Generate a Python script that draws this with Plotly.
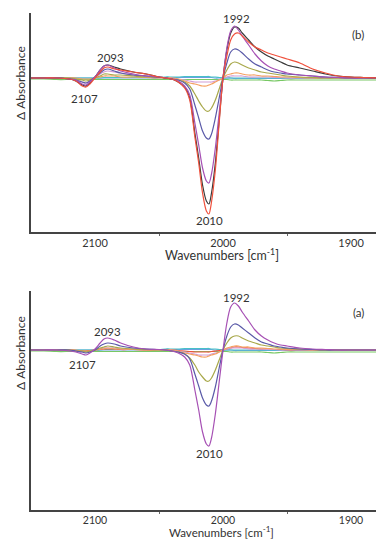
import plotly.graph_objects as go

# Wavenumber grid (cm^-1)
X = [2150, 2140, 2130, 2120, 2115, 2110, 2107, 2104, 2100, 2096, 2093, 2090, 2085, 2080,
     2070, 2060, 2050, 2045, 2040, 2035, 2030, 2026, 2022, 2019, 2016, 2013, 2011, 2009,
     2006, 2003, 2000, 1997, 1994, 1991, 1988, 1985, 1980, 1975, 1970, 1965, 1960, 1955,
     1950, 1940, 1930, 1920, 1910, 1900, 1890, 1880]

# ---- panel (b) spectra (delta absorbance, arbitrary units) ----
B_red = [0, 0, 0, -1, -3, -8, -9, -6, 0, 6, 10, 11, 9, 8, 6, 4, 1, 0,
         -1, -4, -10, -22, -59, -85, -115, -133, -136, -124, -92, -45, 0,
         22, 38, 44, 45, 42, 36, 31, 28, 25, 23, 21, 19, 15, 9, 5, 2, 1, 0.5, 0]
B_black = [0, 0, 0, -1, -3, -7, -8, -5, 1, 8, 12, 13, 11, 9, 6, 4, 1, 0,
           -1, -4, -9, -20, -55, -80, -107, -123, -126, -115, -85, -42, 0,
           28, 45, 51, 50, 45, 38, 31, 26, 22, 19, 16, 13, 10, 7, 4, 2, 1, 0.5, 0]
B_purple = [0, 0, 0, -1, -2, -6, -7, -4, 1, 8, 12, 13, 10, 7, 4, 2, 1, 0,
            -1, -3, -8, -17, -45, -67, -90, -103, -105, -96, -70, -35, 0,
            30, 47, 52, 48, 42, 33, 24, 17, 12, 9, 7, 5, 3, 2, 1, 0.5, 0, 0, 0]
B_blue = [0, 0, 0, -1, -2, -4, -5, -3, 1, 5, 8, 9, 7, 5, 3, 2, 1, 0,
          -1, -2, -5, -11, -27, -40, -53, -60, -61, -56, -40, -20, 0,
          15, 26, 29, 28, 25, 19, 14, 11, 8, 6, 5, 4, 3, 2, 1, 0.5, 0, 0, 0]
B_lilac = [0, 0, 0, -1, -2, -4, -5, -3, 0, 4, 6, 7, 6, 5, 3, 2, 1, 0,
           0, -1, -2, -3, -4, -4, -4, -4, -4, -4, -3, -2, 0,
           1, 2, 2, 2, 2, 1, 1, 1, 1, 0.5, 0.5, 0, 0, 0, 0, 0, 0, 0, 0]
B_olive = [0, 0, 0, 0, -1, -2, -3, -2, 0, 2, 4, 4, 3, 3, 2, 1, 0.5, 0,
           -1, -2, -4, -8, -16, -23, -29, -33, -33, -30, -22, -11, 0,
           8, 14, 16, 15, 13, 10, 8, 6, 5, 4, 3, 2, 1, 0.5, 0, 0, 0, 0, 0]
B_orange = [0, 0, 0, 0, 0, -1, -1, -1, 0, 1, 2, 2, 2, 1, 1, 0.5, 0, 0,
            0, -1, -3, -5, -6, -7, -8, -8, -7, -6, -4, -2, 0,
            3, 4, 5, 5, 4, 3, 3, 2, 2, 1.5, 1, 1, 0.5, 0, 0, 0, 0, 0, 0]
B_cyan = [0, 0.5, 0, 0, 0, 0, 0, 0, 0, 0, 0.5, 0.5, 0.5, 0.5, 0.5, 0.5, 0.5, 1,
          1, 1, 1.5, 1.5, 1.5, 1.5, 1.5, 1.5, 1.5, 1, 1, 0.5, 0,
          0, 0, 0, 0, 0, 0, 0, 0, 0, 0, 0, 0, 0, 0, 0, 0, 0, 0, 0]
B_lightblue = [0, 0, 0, 0, 0, 0, 0, 0, 0, 0, 0, 0, 0, 0, 0, 0, 0, 0.5,
               0.5, 0.5, 0.5, 0.5, 0.5, 0.5, 0.5, 0.5, 0.5, 0.5, 0, 0, 0,
               0, 0, -0.5, -0.5, -0.5, -0.5, -0.5, -0.5, -0.5, -0.5, -0.5, -0.5,
               -0.5, -0.5, -0.5, -0.5, -0.5, -0.5, -0.5]
B_green = [-1, -1, -1.5, -1.5, -1.5, -1.5, -1.5, -1.5, -1.5, -1.5, -1.5, -1.5, -1.5, -1.5,
           -1.5, -1.5, -1.5, -1.5, -1.5, -1.5, -1.5, -1.5, -1.5, -1.5, -1.5, -1.5, -1.5,
           -1.5, -1.5, -1.5, -1.5, -1.5, -2, -2, -2, -2, -2, -2, -2, -2.5, -3, -2.5,
           -2, -2, -2, -2, -2, -2, -2, -2]

# ---- panel (a) spectra ----
A_purple = [0, 0, 0, -1, -2, -4, -5, -3, 1, 7, 11, 12, 10, 7, 3, 1, 0.5, 0,
            -1, -3, -7, -15, -40, -60, -82, -94, -96, -88, -64, -32, 0,
            27, 43, 47, 44, 38, 29, 20, 14, 10, 7, 5, 4, 2, 1, 0.5, 0, 0, 0, 0]
A_blue = [0, 0, 0, 0, -1, -2, -3, -2, 0, 4, 6, 7, 6, 4, 2, 1, 0.5, 0,
          -1, -2, -4, -9, -24, -36, -48, -55, -56, -51, -37, -18, 0,
          14, 23, 26, 25, 22, 17, 12, 8, 6, 4, 3, 2, 1, 0.5, 0, 0, 0, 0, 0]
A_olive = [0, 0, 0, 0, -1, -1, -2, -1, 0, 2, 3, 4, 3, 2, 1, 0.5, 0, 0,
           -1, -2, -4, -8, -15, -22, -27, -31, -31, -28, -20, -10, 0,
           7, 12, 14, 14, 12, 9, 7, 5, 4, 3, 2, 1.5, 1, 0.5, 0, 0, 0, 0, 0]
A_orange = [0, 0, 0, 0, 0, -1, -1, -1, 0, 1, 1, 2, 1, 1, 0.5, 0, 0, 0,
            0, -1, -3, -4, -5, -6, -7, -7, -6, -5, -4, -2, 0,
            2, 3, 4, 4, 3, 3, 2, 2, 1.5, 1, 1, 0.5, 0.5, 0, 0, 0, 0, 0, 0]
A_lilac = [0, 0, 0, 0, -1, -2, -2, -1, 0, 1, 2, 2, 2, 1, 1, 0.5, 0, 0,
           0, -1, -2, -3, -4, -5, -5, -5, -5, -4, -3, -2, 0,
           1, 2, 2, 2, 2, 1, 1, 1, 0.5, 0.5, 0, 0, 0, 0, 0, 0, 0, 0, 0]
A_red = [0, 0, 0, 0, -0.5, -1, -1, -0.5, 0, 0.5, 1, 1, 1, 0.5, 0.5, 0, 0, 0,
         0, -0.5, -1, -1.5, -2, -2, -2, -2, -2, -1.5, -1, -0.5, 0,
         1, 2, 3, 3, 2.5, 2, 1.5, 1, 1, 0.5, 0.5, 0, 0, 0, 0, 0, 0, 0, 0]
A_cyan = B_cyan
A_lightblue = B_lightblue
A_green = B_green

COLORS = {
    "red": "#f0503c", "black": "#3a3a3a", "purple": "#a650b4", "blue": "#5a5aa8",
    "lilac": "#d29ed6", "olive": "#a8a84a", "orange": "#f5a060", "cyan": "#48c0c8",
    "lightblue": "#6aa0e0", "green": "#78c864",
}

top_series = [("green", B_green), ("lightblue", B_lightblue), ("cyan", B_cyan),
              ("lilac", B_lilac), ("orange", B_orange), ("olive", B_olive),
              ("blue", B_blue), ("black", B_black), ("purple", B_purple), ("red", B_red)]
bot_series = [("green", A_green), ("lightblue", A_lightblue), ("cyan", A_cyan),
              ("red", A_red), ("lilac", A_lilac), ("orange", A_orange),
              ("olive", A_olive), ("blue", A_blue), ("purple", A_purple)]

fig = go.Figure()
for name, ys in top_series:
    fig.add_trace(go.Scatter(x=X, y=ys, mode="lines", xaxis="x", yaxis="y",
                             line=dict(color=COLORS[name], width=1.2, shape="spline", smoothing=0.8),
                             showlegend=False, hoverinfo="skip"))
for name, ys in bot_series:
    fig.add_trace(go.Scatter(x=X, y=ys, mode="lines", xaxis="x2", yaxis="y2",
                             line=dict(color=COLORS[name], width=1.2, shape="spline", smoothing=0.8),
                             showlegend=False, hoverinfo="skip"))

FONT = "Lato, Liberation Sans, sans-serif"
TXT = "#333333"
def xaxis_cfg(size):
    return dict(range=[2150, 1880.5], tickvals=[2100, 2000, 1900], ticktext=["2100", "2000", "1900"],
                ticks="", showgrid=False, zeroline=False, showline=True, linecolor="#444444",
                linewidth=1.5, tickfont=dict(family=FONT, size=size, color=TXT),
                minor=dict(tickvals=[2050, 1950], ticks="outside", ticklen=2, tickcolor="#666666"))
ycommon = dict(showgrid=False, zeroline=False, showline=True, linecolor="#444444",
               linewidth=1.5, showticklabels=False, ticks="")

H_PLOT = 497.0
def py(p):
    return (510 - p) / H_PLOT

fig.update_layout(
    width=376, height=539,
    margin=dict(l=31, r=0, t=13, b=29),
    paper_bgcolor="white", plot_bgcolor="white",
    xaxis=dict(domain=[0, 1], anchor="y", **xaxis_cfg(11)),
    yaxis=dict(domain=[py(232), 1], anchor="x", range=[-154, 65], **ycommon),
    xaxis2=dict(domain=[0, 1], anchor="y2", **xaxis_cfg(10.5)),
    yaxis2=dict(domain=[0, py(291)], anchor="x2", range=[-160, 59], **ycommon),
)

W_PLOT = 345.0
def px(p):
    return (p - 31) / W_PLOT

def ann(xp, yp, text, size=11.5, angle=0):
    fig.add_annotation(x=xp, y=yp, xref="paper", yref="paper", text=text, showarrow=False,
                       xanchor="center", yanchor="middle", textangle=angle,
                       font=dict(family=FONT, size=size, color=TXT))

# peak labels (panel b)
ann(px(236), py(19), "1992")
ann(px(110), py(57), "2093")
ann(px(84), py(98), "2107")
ann(px(209), py(221), "2010")
ann(px(358), py(35), "(b)")
# panel a
ann(px(236), py(297), "1992")
ann(px(107), py(331), "2093")
ann(px(82), py(364), "2107")
ann(px(209), py(453), "2010")
ann(px(358), py(312), "(a)")
# axis titles
ann(px(222), py(255), "Wavenumbers [cm<sup>-1</sup>]", 12.5)
ann(px(222), py(531.5), "Wavenumbers [cm<sup>-1</sup>]", 11.5)
ann(px(20), py(83), "Δ Absorbance", 12, -90)
ann(px(20), py(353), "Δ Absorbance", 12, -90)

fig.write_html("out.html", config={"displayModeBar": False},
               post_script="document.body.style.margin='0';document.body.style.overflow='hidden';")
